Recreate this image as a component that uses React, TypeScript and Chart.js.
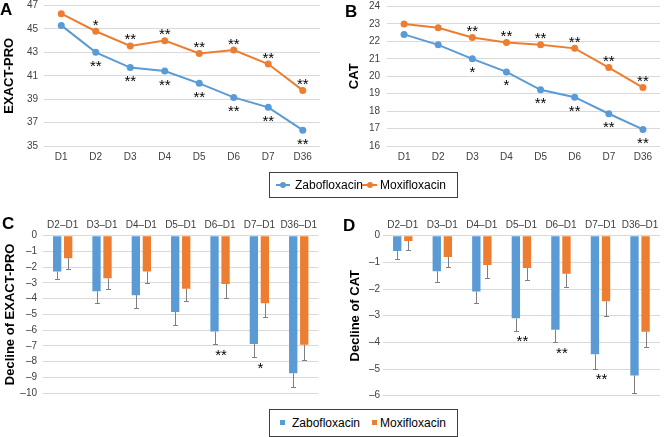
import React, { useEffect, useRef } from "react";
import { Chart, registerables } from "chart.js";

Chart.register(...registerables);

// ---------- DATA ----------
const days = ["D1", "D2", "D3", "D4", "D5", "D6", "D7", "D36"];
const exactZabo = [45.3, 43.0, 41.7, 41.4, 40.35, 39.15, 38.3, 36.35];
const exactMoxi = [46.3, 44.8, 43.55, 44.0, 42.9, 43.2, 42.0, 39.75];
const exactSigMoxi = ["", "*", "**", "**", "**", "**", "**", "**"];
const exactSigZabo = ["", "**", "**", "**", "**", "**", "**", "**"];

const catZabo = [22.4, 21.8, 21.0, 20.25, 19.22, 18.8, 17.85, 16.95];
const catMoxi = [23.0, 22.78, 22.22, 21.93, 21.8, 21.6, 20.5, 19.35];
const catSigMoxi = ["", "", "**", "**", "**", "**", "**", "**"];
const catSigZabo = ["", "", "*", "*", "**", "**", "**", "**"];

const diffs = ["D2–D1", "D3–D1", "D4–D1", "D5–D1", "D6–D1", "D7–D1", "D36–D1"];
const declExactZabo = [-2.27, -3.53, -3.78, -4.85, -6.09, -6.89, -8.75];
const declExactZaboErr = [0.48, 0.73, 0.84, 0.82, 0.82, 0.84, 0.85];
const declExactMoxi = [-1.43, -2.71, -2.27, -3.38, -3.07, -4.29, -6.93];
const declExactMoxiErr = [0.67, 0.71, 0.76, 0.78, 0.88, 0.86, 0.95];
const declExactSig = ["", "", "", "", "**", "*", ""];

const declCatZabo = [-0.575, -1.33, -2.09, -3.1, -3.53, -4.45, -5.24];
const declCatZaboErr = [0.315, 0.39, 0.45, 0.46, 0.47, 0.53, 0.64];
const declCatMoxi = [-0.2, -0.8, -1.1, -1.21, -1.43, -2.46, -3.6];
const declCatMoxiErr = [0.34, 0.38, 0.48, 0.47, 0.49, 0.54, 0.58];
const declCatSig = ["", "", "", "**", "**", "**", ""];

const seriesNames = ["Zabofloxacin", "Moxifloxacin"];

// ---------- STYLE ----------
const BLUE = "#5B9BD5";
const ORANGE = "#ED7D31";
const FONT = "'Liberation Sans', Arial, Helvetica, sans-serif";
const TICK_COLOR = "#404040";
const GRID = "#d9d9d9";

type AxisOpts = {
  axisW: number;
  tickPad: number;
  titlePad: number;
  padTop: number;
  padRight: number;
  padBottom: number;
};

function lineSigPlugin(sigZ: string[], sigM: string[]) {
  return {
    id: "lineSig",
    afterDatasetsDraw(chart: any) {
      const ctx = chart.ctx;
      ctx.save();
      ctx.font = `15px ${FONT}`;
      ctx.fillStyle = "#000";
      ctx.textAlign = "center";
      ctx.textBaseline = "alphabetic";
      const mz = chart.getDatasetMeta(0).data;
      const mm = chart.getDatasetMeta(1).data;
      sigM.forEach((s, i) => {
        if (!s) return;
        const p = mm[i];
        ctx.fillText(s, p.x, p.y - 10 + 8.6);
      });
      sigZ.forEach((s, i) => {
        if (!s) return;
        const p = mz[i];
        ctx.fillText(s, p.x, p.y + 10 + 8.6);
      });
      ctx.restore();
    },
  };
}

function lineConfig(
  zabo: number[],
  moxi: number[],
  sigZ: string[],
  sigM: string[],
  yMin: number,
  yMax: number,
  step: number,
  title: string,
  o: AxisOpts
): any {
  return {
    type: "line",
    data: {
      labels: days,
      datasets: [
        {
          label: seriesNames[0],
          data: zabo,
          borderColor: BLUE,
          backgroundColor: BLUE,
          pointBackgroundColor: BLUE,
          pointBorderWidth: 0,
          pointRadius: 3.5,
          borderWidth: 2,
          tension: 0,
        },
        {
          label: seriesNames[1],
          data: moxi,
          borderColor: ORANGE,
          backgroundColor: ORANGE,
          pointBackgroundColor: ORANGE,
          pointBorderWidth: 0,
          pointRadius: 3.5,
          borderWidth: 2,
          tension: 0,
        },
      ],
    },
    options: {
      responsive: false,
      animation: false,
      devicePixelRatio: 1,
      layout: { padding: { top: o.padTop, right: o.padRight, left: 0, bottom: o.padBottom } },
      plugins: { legend: { display: false }, tooltip: { enabled: false } },
      scales: {
        x: {
          offset: true,
          grid: { display: false, drawTicks: false },
          border: { display: false },
          ticks: { font: { family: FONT, size: 10 }, color: TICK_COLOR, padding: 5, maxRotation: 0 },
          afterFit: (s: any) => {
            s.height = 24;
          },
        },
        y: {
          min: yMin,
          max: yMax,
          ticks: { stepSize: step, font: { family: FONT, size: 10 }, color: TICK_COLOR, padding: o.tickPad },
          grid: { color: GRID, drawTicks: false, lineWidth: 1 },
          border: { display: false },
          title: {
            display: true,
            text: title,
            font: { family: FONT, size: 13, weight: "bold" },
            color: "#000",
            padding: { top: o.titlePad, bottom: 0 },
          },
          afterFit: (s: any) => {
            s.width = o.axisW;
          },
        },
      },
    },
    plugins: [lineSigPlugin(sigZ, sigM)],
  };
}

function barPlugin(
  zabo: number[],
  errZ: number[],
  moxi: number[],
  errM: number[],
  sig: string[]
) {
  return {
    id: "errBars",
    afterDatasetsDraw(chart: any) {
      const ctx = chart.ctx;
      const ys = chart.scales.y;
      const xs = chart.scales.x;
      ctx.save();
      ctx.strokeStyle = "#7f7f7f";
      ctx.lineWidth = 1;
      const sets: [number[], number[]][] = [
        [zabo, errZ],
        [moxi, errM],
      ];
      sets.forEach(([vals, errs], di) => {
        const meta = chart.getDatasetMeta(di).data;
        vals.forEach((v, i) => {
          const el = meta[i];
          const x = Math.round(el.x) + 0.5;
          const y0 = ys.getPixelForValue(v);
          const y1 = Math.round(ys.getPixelForValue(v - errs[i])) + 0.5;
          ctx.beginPath();
          ctx.moveTo(x, y0);
          ctx.lineTo(x, y1);
          ctx.moveTo(x - 2.5, y1);
          ctx.lineTo(x + 2.5, y1);
          ctx.stroke();
        });
      });
      ctx.font = `15px ${FONT}`;
      ctx.fillStyle = "#000";
      ctx.textAlign = "center";
      ctx.textBaseline = "alphabetic";
      sig.forEach((s, i) => {
        if (!s) return;
        const cx = xs.getPixelForValue(i) + 1;
        const yy = ys.getPixelForValue(zabo[i] - errZ[i]) + 7;
        ctx.fillText(s, cx, yy + 8.6);
      });
      ctx.restore();
    },
  };
}

function barConfig(
  zabo: number[],
  errZ: number[],
  moxi: number[],
  errM: number[],
  sig: string[],
  yMin: number,
  title: string,
  o: AxisOpts
): any {
  return {
    type: "bar",
    data: {
      labels: diffs,
      datasets: [
        {
          label: seriesNames[0],
          data: zabo,
          backgroundColor: BLUE,
          categoryPercentage: 0.56,
          barPercentage: 0.755,
        },
        {
          label: seriesNames[1],
          data: moxi,
          backgroundColor: ORANGE,
          categoryPercentage: 0.56,
          barPercentage: 0.755,
        },
      ],
    },
    options: {
      responsive: false,
      animation: false,
      devicePixelRatio: 1,
      layout: { padding: { top: o.padTop, right: o.padRight, left: 0, bottom: o.padBottom } },
      plugins: { legend: { display: false }, tooltip: { enabled: false } },
      scales: {
        x: {
          position: "top",
          grid: { display: false, drawTicks: false },
          border: { display: false },
          ticks: { font: { family: FONT, size: 10 }, color: TICK_COLOR, padding: 4, maxRotation: 0, autoSkip: false },
          afterFit: (s: any) => {
            s.height = 20;
          },
        },
        y: {
          min: yMin,
          max: 0,
          ticks: {
            stepSize: 1,
            font: { family: FONT, size: 10 },
            color: TICK_COLOR,
            padding: o.tickPad,
            callback: (v: any) => (Number(v) === 0 ? "0" : "–" + Math.abs(Number(v))),
          },
          grid: { color: GRID, drawTicks: false, lineWidth: 1 },
          border: { display: false },
          title: {
            display: true,
            text: title,
            font: { family: FONT, size: 13, weight: "bold" },
            color: "#000",
            padding: { top: o.titlePad, bottom: 0 },
          },
          afterFit: (s: any) => {
            s.width = o.axisW;
          },
        },
      },
    },
    plugins: [barPlugin(zabo, errZ, moxi, errM, sig)],
  };
}

function ChartBox(props: { make: () => any; left: number; top: number; width: number; height: number }) {
  const ref = useRef<HTMLCanvasElement>(null);
  useEffect(() => {
    const c = new Chart(ref.current as HTMLCanvasElement, props.make());
    return () => c.destroy();
  }, []);
  return (
    <canvas
      ref={ref}
      width={props.width}
      height={props.height}
      style={{ position: "absolute", left: props.left, top: props.top, width: props.width, height: props.height }}
    />
  );
}

const abs = (l: number, t: number, extra: React.CSSProperties = {}): React.CSSProperties => ({
  position: "absolute",
  left: l,
  top: t,
  ...extra,
});

function Letter({ ch, l, t }: { ch: string; l: number; t: number }) {
  return (
    <div style={abs(l, t, { font: `bold 17px ${FONT}`, lineHeight: "17px", color: "#000" })}>{ch}</div>
  );
}

function LegendText({ text, l, cy }: { text: string; l: number; cy: number }) {
  return (
    <div style={abs(l, cy - 7, { font: `12px ${FONT}`, lineHeight: "14px", color: "#000", whiteSpace: "nowrap" })}>
      {text}
    </div>
  );
}

function LineMarker({ color, l, w, cy }: { color: string; l: number; w: number; cy: number }) {
  return (
    <>
      <div style={abs(l, cy - 1, { width: w, height: 2, background: color })} />
      <div style={abs(l + w / 2 - 3, cy - 3, { width: 6, height: 6, borderRadius: "50%", background: color })} />
    </>
  );
}

export default function App() {
  return (
    <div
      style={{
        position: "fixed",
        left: 0,
        top: 0,
        width: 664,
        height: 437,
        background: "#fff",
        overflow: "hidden",
      }}
    >
      <ChartBox
        left={0}
        top={-10}
        width={330}
        height={180}
        make={() =>
          lineConfig(exactZabo, exactMoxi, exactSigZabo, exactSigMoxi, 35, 47, 2, "EXACT-PRO", {
            axisW: 44,
            tickPad: 6,
            titlePad: 2,
            padTop: 15.5,
            padRight: 10,
            padBottom: 0,
          })
        }
      />
      <ChartBox
        left={330}
        top={-10}
        width={334}
        height={180}
        make={() =>
          lineConfig(catZabo, catMoxi, catSigZabo, catSigMoxi, 16, 24, 1, "CAT", {
            axisW: 57,
            tickPad: 7,
            titlePad: 17,
            padTop: 16.5,
            padRight: 2,
            padBottom: 0,
          })
        }
      />
      <ChartBox
        left={0}
        top={200}
        width={330}
        height={205}
        make={() =>
          barConfig(
            declExactZabo,
            declExactZaboErr,
            declExactMoxi,
            declExactMoxiErr,
            declExactSig,
            -10,
            "Decline of EXACT-PRO",
            { axisW: 43, tickPad: 6, titlePad: 2.7, padTop: 15.7, padRight: 11.6, padBottom: 10.7 }
          )
        }
      />
      <ChartBox
        left={330}
        top={200}
        width={334}
        height={205}
        make={() =>
          barConfig(
            declCatZabo,
            declCatZaboErr,
            declCatMoxi,
            declCatMoxiErr,
            declCatSig,
            -6,
            "Decline of CAT",
            { axisW: 53, tickPad: 3, titlePad: 18, padTop: 15.7, padRight: 4.2, padBottom: 9.3 }
          )
        }
      />

      <Letter ch="A" l={0} t={1} />
      <Letter ch="B" l={345} t={3} />
      <Letter ch="C" l={2} t={215} />
      <Letter ch="D" l={343} t={217} />

      {/* Legend for line charts */}
      <div style={abs(269, 172, { width: 189, height: 26, border: "1px solid #404040", boxSizing: "border-box" })} />
      <LineMarker color={BLUE} l={276} w={14} cy={185} />
      <LegendText text={seriesNames[0]} l={295} cy={185} />
      <LineMarker color={ORANGE} l={362} w={15} cy={185} />
      <LegendText text={seriesNames[1]} l={380} cy={185} />

      {/* Legend for bar charts */}
      <div style={abs(269, 409, { width: 189, height: 28, border: "1px solid #404040", boxSizing: "border-box" })} />
      <div style={abs(280, 420, { width: 5, height: 5, background: BLUE })} />
      <LegendText text={seriesNames[0]} l={292} cy={423} />
      <div style={abs(372, 420, { width: 5, height: 5, background: ORANGE })} />
      <LegendText text={seriesNames[1]} l={380} cy={423} />
    </div>
  );
}
